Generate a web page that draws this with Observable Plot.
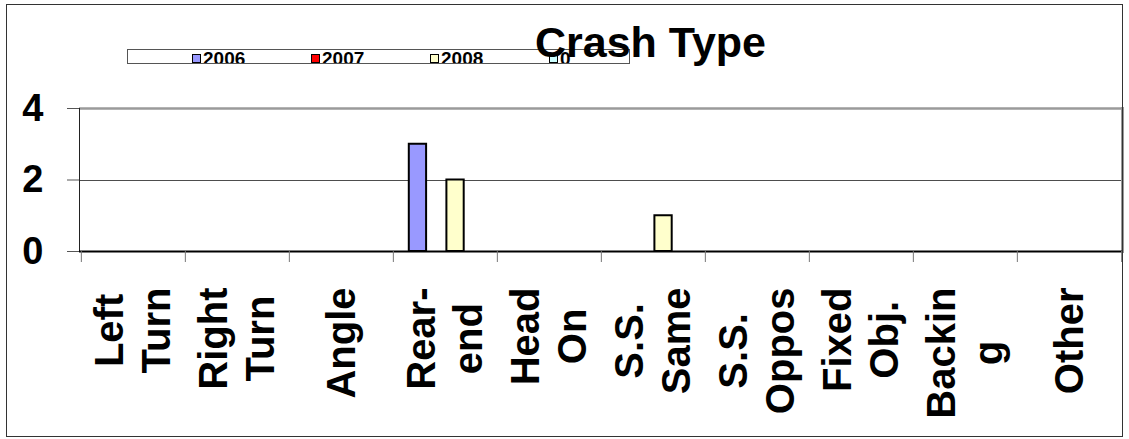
<!DOCTYPE html>
<html>
<head>
<meta charset="utf-8">
<script src="https://cdn.jsdelivr.net/npm/d3@7"></script>
<script src="https://cdn.jsdelivr.net/npm/@observablehq/plot@0.6"></script>
<style>
  body { margin: 0; background: #fff; font-family: "Liberation Sans", Arial, sans-serif; }
  #chart { position: relative; width: 1129px; height: 439px; overflow: hidden; background: #fff; }
  #border { position: absolute; left: 6px; top: 4px; width: 1115px; height: 431px; border: 1px solid #333; z-index: 3; pointer-events: none; }
  #plot { position: absolute; left: 0; top: 80px; z-index: 1; }
  #legend { position: absolute; left: 127px; top: 49px; width: 501px; height: 13px; border: 1px solid #555; background: #fff; overflow: hidden; z-index: 2; }
  #legend .item { position: absolute; top: 0; height: 40px; white-space: nowrap; }
  #legend .sw { position: absolute; left: 0; top: 4px; width: 7px; height: 7px; border: 1.5px solid #000; }
  #legend .lab { position: absolute; left: 11px; top: -1px; font-size: 19px; line-height: 19px; font-weight: bold; color: #000; }
  #title { position: absolute; left: 535px; top: 21px; font-size: 43px; line-height: 43px; font-weight: bold; color: #000; white-space: nowrap; z-index: 4; }
</style>
</head>
<body>
<div id="chart">
  <div id="plot"></div>
  <div id="legend"></div>
  <div id="title">Crash Type</div>
  <div id="border"></div>
</div>
<script>
// Crash counts by crash type for each year
const categories = ["Left Turn", "Right Turn", "Angle", "Rear-end", "Head On", "S.S. Same", "S.S. Oppos", "Fixed Obj.", "Backing", "Other"];
const categoryLines = [["Left", "Turn"], ["Right", "Turn"], ["Angle"], ["Rear-", "end"], ["Head", "On"], ["S.S.", "Same"], ["S.S.", "Oppos"], ["Fixed", "Obj."], ["Backin", "g"], ["Other"]];
const series = ["2006", "2007", "2008", "0"];
const seriesColors = ["#9999FF", "#FF0000", "#FFFFCC", "#CCFFFF"];
const values2006 = [0, 0, 0, 3, 0, 0, 0, 0, 0, 0];
const values2007 = [0, 0, 0, 0, 0, 0, 0, 0, 0, 0];
const values2008 = [0, 0, 0, 2, 0, 1, 0, 0, 0, 0];
const values0 = [0, 0, 0, 0, 0, 0, 0, 0, 0, 0];
const yTicks = [0, 2, 4];

const seriesValues = [values2006, values2007, values2008, values0];
const rows = series.flatMap((s, j) =>
  categories.map((c, i) => ({category: c, series: s, value: seriesValues[j][i]}))
);

// Legend strip
const legend = document.getElementById("legend");
series.forEach((s, j) => {
  const item = document.createElement("div");
  item.className = "item";
  item.style.left = (64 + j * 119) + "px";
  item.innerHTML = `<div class="sw" style="background:${seriesColors[j]}"></div><div class="lab">${s}</div>`;
  legend.appendChild(item);
});

// Plot geometry
const W = 1129, H = 356;
const mL = 79, mR = 7, mT = 28, mB = 185;
const bw = (W - mL - mR) / categories.length;   // width of one category band
const groupOffset = 15.8, slot = 18.8, barW = 17.6;

// Measure label lines so each rotated block hangs from the same top line
const ctx = document.createElement("canvas").getContext("2d");
ctx.font = "bold 40px 'Liberation Sans', Arial";

const barMarks = series.map((s, j) =>
  Plot.barY(rows.filter(d => d.series === s && d.value > 0), {
    x: "category",
    y: "value",
    fill: seriesColors[j],
    stroke: "#000",
    strokeWidth: 2,
    insetLeft: groupOffset + j * slot,
    insetRight: bw - (groupOffset + j * slot + barW)
  })
);

const labelMarks = categories.map((c, i) => {
  const lines = categoryLines[i];
  const maxW = Math.max(...lines.map(l => ctx.measureText(l).width));
  return Plot.text([c], {
    x: d => d,
    text: () => lines.join("\n"),
    rotate: -90,
    frameAnchor: "bottom",
    textAnchor: "middle",
    lineAnchor: "middle",
    lineHeight: 1.18,
    fontSize: 40,
    fontWeight: "bold",
    fill: "#000",
    dx: -2,
    dy: 36 + maxW / 2
  });
});

const chart = Plot.plot({
  width: W,
  height: H,
  marginLeft: mL,
  marginRight: mR,
  marginTop: mT,
  marginBottom: mB,
  style: {background: "transparent", fontFamily: "'Liberation Sans', Arial, sans-serif", overflow: "visible"},
  x: {type: "band", domain: categories, padding: 0, label: null},
  y: {domain: [0, 4], label: null},
  marks: [
    Plot.ruleY([2], {stroke: "#4d4d4d", strokeWidth: 1, shapeRendering: "crispEdges"}),
    Plot.ruleY([4], {stroke: "#9a9a9a", strokeWidth: 2.5}),
    ...barMarks,
    Plot.frame({anchor: "left", stroke: "#222", strokeWidth: 1, shapeRendering: "crispEdges"}),
    Plot.frame({anchor: "right", stroke: "#9a9a9a", strokeWidth: 3}),
    Plot.ruleY([0], {stroke: "#000", strokeWidth: 2}),
    Plot.axisY({ticks: yTicks, label: null, tickSize: 12, tickPadding: 24, fontSize: 38, fontWeight: "bold", stroke: "#555", fill: "#000", tickFormat: d => String(d)}),
    Plot.axisX({label: null, tickSize: 11, stroke: "#777", dx: -bw / 2, tickFormat: () => ""}),
    Plot.axisX({label: null, ticks: [categories[categories.length - 1]], tickSize: 11, stroke: "#777", dx: bw / 2, tickFormat: () => ""}),
    ...labelMarks
  ]
});
document.getElementById("plot").appendChild(chart);
</script>
</body>
</html>
